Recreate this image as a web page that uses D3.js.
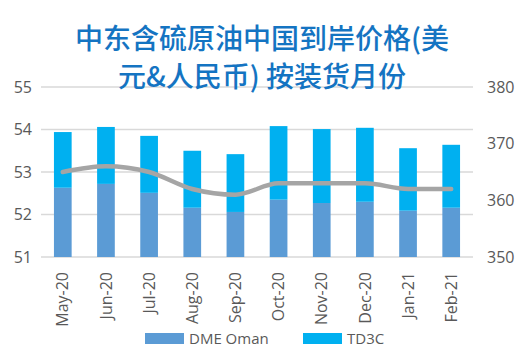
<!DOCTYPE html>
<html>
<head>
<meta charset="utf-8">
<script src="https://cdn.jsdelivr.net/npm/d3@7"></script>
<style>
  body { margin: 0; background: #fff; }
  text { font-family: "Open Sans", "Noto Sans", sans-serif; }
</style>
</head>
<body>
<div id="chart"></div>
<script>
// Data
var months = ["May-20", "Jun-20", "Jul-20", "Aug-20", "Sep-20", "Oct-20", "Nov-20", "Dec-20", "Jan-21", "Feb-21"];
var dmeOman = [52.63, 52.72, 52.51, 52.16, 52.06, 52.35, 52.27, 52.30, 52.09, 52.16];
var td3c = [1.31, 1.34, 1.34, 1.34, 1.36, 1.73, 1.74, 1.74, 1.47, 1.48];
var cnyPrice = [365.0, 366.0, 365.0, 362.0, 361.0, 363.0, 363.0, 363.0, 362.0, 362.0];
var leftTicks = [51, 52, 53, 54, 55];
var rightTicks = [350, 360, 370, 380];
var seriesNames = ["DME Oman", "TD3C"];
var titleLines = ["中东含硫原油中国到岸价格(美", "元&人民币) 按装货月份"];

var W = 532, H = 354;
var margin = {top: 87, right: 59, bottom: 97, left: 41};
var colors = {dme: "#5b9bd5", td3c: "#00b0f0", line: "#a5a5a5", grid: "#d9d9d9", text: "#595959", title: "#1474c2"};

var svg = d3.select("#chart").append("svg")
    .attr("width", W)
    .attr("height", H);

var x = d3.scaleBand()
    .domain(months)
    .range([margin.left, W - margin.right])
    .paddingInner(0.59)
    .paddingOuter(0.3);

var yL = d3.scaleLinear().domain([51, 55]).range([H - margin.bottom, margin.top]);
var yR = d3.scaleLinear().domain([350, 380]).range([H - margin.bottom, margin.top]);

// gridlines
svg.append("g")
    .selectAll("line")
    .data(leftTicks)
    .enter().append("line")
    .attr("x1", margin.left)
    .attr("x2", W - margin.right)
    .attr("y1", function(d) { return yL(d); })
    .attr("y2", function(d) { return yL(d); })
    .attr("stroke", colors.grid)
    .attr("stroke-width", 1.5);

// stacked bars
var rows = months.map(function(m, i) { return {month: m, dme: dmeOman[i], td3c: td3c[i]}; });
var stack = d3.stack().keys(["dme", "td3c"]);
var series = stack(rows);
// left axis starts at 51, so the base of the stack is clipped there
svg.selectAll(".stacked_bar")
    .data(series)
    .enter().append("g")
    .attr("class", "stacked_bar")
    .attr("fill", function(d) { return colors[d.key]; })
    .selectAll("rect")
    .data(function(d) { return d; })
    .enter().append("rect")
    .attr("x", function(d) { return x(d.data.month); })
    .attr("width", x.bandwidth())
    .attr("y", function(d) { return yL(d[1]); })
    .attr("height", function(d) { return yL(Math.max(d[0], 51)) - yL(d[1]); });

// line on the right axis
var line = d3.line()
    .x(function(d, i) { return x(months[i]) + x.bandwidth() / 2; })
    .y(function(d) { return yR(d); })
    .curve(d3.curveMonotoneX);

svg.append("path")
    .datum(cnyPrice)
    .attr("d", line)
    .attr("fill", "none")
    .attr("stroke", colors.line)
    .attr("stroke-width", 4.5)
    .attr("stroke-linecap", "round");

// axes
var axL = svg.append("g")
    .attr("transform", "translate(" + (margin.left - 9) + ",0)")
    .call(d3.axisLeft(yL).tickValues(leftTicks).tickFormat(d3.format("d")).tickSize(0).tickPadding(0));
var axR = svg.append("g")
    .attr("transform", "translate(" + (W - margin.right + 14) + ",0)")
    .call(d3.axisRight(yR).tickValues(rightTicks).tickFormat(d3.format("d")).tickSize(0).tickPadding(0));
[axL, axR].forEach(function(a) {
    a.select(".domain").remove();
    a.selectAll("text")
        .attr("fill", colors.text)
        .style("font-size", "16px")
        .style("font-family", "'Open Sans', sans-serif");
});

var axB = svg.append("g")
    .attr("transform", "translate(0," + (H - margin.bottom) + ")")
    .call(d3.axisBottom(x).tickSize(0).tickPadding(0));
axB.select(".domain").remove();
axB.selectAll("text")
    .attr("fill", colors.text)
    .style("font-size", "16px")
    .style("font-family", "'Open Sans', sans-serif")
    .attr("text-anchor", "end")
    .attr("dy", "0.35em")
    .attr("transform", "translate(0,15) rotate(-90)");

// title
svg.append("g")
    .selectAll("text")
    .data(titleLines)
    .enter().append("text")
    .attr("x", 262)
    .attr("y", function(d, i) { return 49 + i * 38; })
    .attr("text-anchor", "middle")
    .attr("fill", colors.title)
    .style("font-family", "'Noto Sans CJK SC', sans-serif")
    .style("font-weight", "500")
    .style("font-size", "28px")
    .text(function(d) { return d; });

// legend
var legendX = [145, 303];
var lg = svg.append("g").selectAll("g")
    .data(seriesNames)
    .enter().append("g")
    .attr("transform", function(d, i) { return "translate(" + legendX[i] + ",333)"; });
lg.append("rect")
    .attr("width", 39)
    .attr("height", 11)
    .attr("fill", function(d, i) { return i === 0 ? colors.dme : colors.td3c; });
lg.append("text")
    .attr("x", 44)
    .attr("y", 6)
    .attr("dy", "0.35em")
    .attr("fill", colors.text)
    .style("font-size", "15px")
    .text(function(d) { return d; });
</script>
</body>
</html>
